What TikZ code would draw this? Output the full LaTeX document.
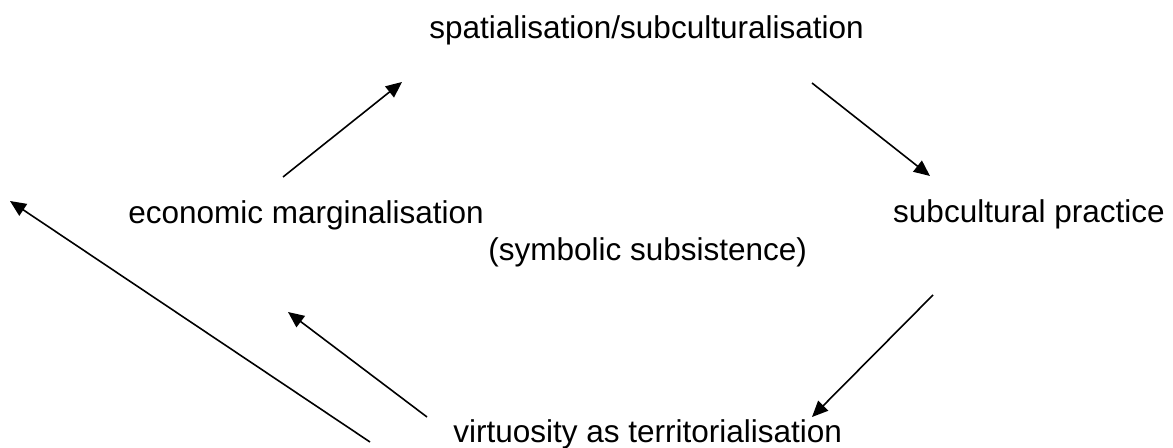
\documentclass[tikz,border=0pt]{standalone}
\usepackage{fontspec}
\setmainfont{Liberation Sans}
\usepackage{tikz}
\usetikzlibrary{arrows.meta,positioning}

\begin{document}
\begin{tikzpicture}[x=0.5pt, y=-0.5pt, >={Triangle[length=8pt,width=7pt]},
  t/.style={inner sep=0pt, font=\fontsize{15.75}{18}\selectfont},
  a/.style={->, line width=0.8pt}]
  \useasboundingbox (0,0) rectangle (1173,448);
  % labels
  \node[t, anchor=base west] (spat) at (429,39) {spatialisation/subculturalisation};
  \node[t, anchor=base west] (econ) at (128,224) {economic marginalisation};
  \node[t, anchor=base east] (prac) at (1165,223) {subcultural practice};
  \node[t, anchor=base west] (symb) at (488,261) {(symbolic subsistence)};
  \node[t, anchor=base west] (virt) at (453,443) {virtuosity as territorialisation};
  % arrow ends
  \coordinate (a1s) at (283,177); \coordinate (a1e) at (402,82);
  \coordinate (a2s) at (812,83);  \coordinate (a2e) at (930,176);
  \coordinate (a3s) at (933,295); \coordinate (a3e) at (812,417);
  \coordinate (a4s) at (427,417); \coordinate (a4e) at (288,312);
  \coordinate (a5s) at (370,442); \coordinate (a5e) at (10,201);
  \draw[a] (a1s) -- (a1e);
  \draw[a] (a2s) -- (a2e);
  \draw[a] (a3s) -- (a3e);
  \draw[a] (a4s) -- (a4e);
  \draw[a] (a5s) -- (a5e);
\end{tikzpicture}
\end{document}
